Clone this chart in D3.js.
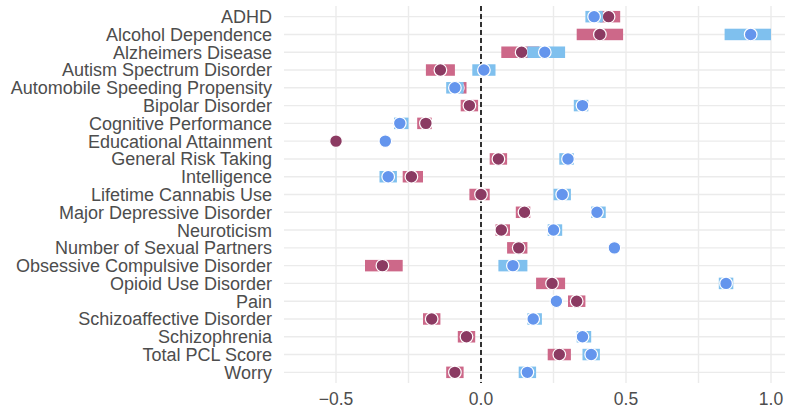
<!DOCTYPE html>
<html>

<head>
    <meta charset="utf-8">
    <style>
        body {
            margin: 0;
            background: white;
        }

        svg {
            display: block;
            font-family: 'Liberation Sans', Arial, sans-serif;
        }
    </style>
</head>

<body>
    <svg width="785" height="409"></svg>

    <script src="https://d3js.org/d3.v7.min.js"></script>

    <script>
        let categories = ["ADHD", "Alcohol Dependence", "Alzheimers Disease", "Autism Spectrum Disorder",
            "Automobile Speeding Propensity", "Bipolar Disorder", "Cognitive Performance",
            "Educational Attainment", "General Risk Taking", "Intelligence", "Lifetime Cannabis Use",
            "Major Depressive Disorder", "Neuroticism", "Number of Sexual Partners",
            "Obsessive Compulsive Disorder", "Opioid Use Disorder", "Pain", "Schizoaffective Disorder",
            "Schizophrenia", "Total PCL Score", "Worry"]

        // blue series
        let blueEst = [0.39, 0.93, 0.22, 0.01, -0.09, 0.35, -0.28, -0.33, 0.30, -0.32, 0.28, 0.40, 0.25, 0.46, 0.11, 0.845, 0.26, 0.18, 0.35, 0.38, 0.16]
        let blueLo = [0.36, 0.84, 0.16, -0.03, -0.12, 0.32, -0.30, -0.34, 0.27, -0.35, 0.25, 0.38, 0.23, 0.45, 0.06, 0.82, 0.25, 0.16, 0.33, 0.35, 0.13]
        let blueHi = [0.42, 1.00, 0.29, 0.05, -0.06, 0.37, -0.25, -0.32, 0.32, -0.29, 0.31, 0.43, 0.28, 0.47, 0.16, 0.87, 0.27, 0.21, 0.38, 0.41, 0.19]

        // maroon series
        let redEst = [0.44, 0.41, 0.14, -0.14, -0.08, -0.04, -0.19, -0.50, 0.06, -0.24, 0.00, 0.15, 0.07, 0.13, -0.34, 0.245, 0.33, -0.17, -0.05, 0.27, -0.09]
        let redLo = [0.41, 0.33, 0.07, -0.19, -0.10, -0.07, -0.22, -0.51, 0.03, -0.27, -0.04, 0.12, 0.05, 0.09, -0.40, 0.19, 0.30, -0.20, -0.08, 0.23, -0.12]
        let redHi = [0.48, 0.49, 0.20, -0.09, -0.05, -0.01, -0.17, -0.49, 0.09, -0.20, 0.03, 0.17, 0.10, 0.16, -0.27, 0.29, 0.36, -0.14, -0.02, 0.31, -0.06]

        let xTicks = [-0.5, 0, 0.5, 1.0]
        let xMinor = [-0.25, 0.25, 0.75]

        let svg = d3.select("svg")

        let panel = { left: 284, right: 785, top: 6, bottom: 383 }

        let x = d3.scaleLinear()
            .domain([-0.5, 1.0])
            .range([336, 771])

        let y = d3.scalePoint()
            .domain(categories)
            .range([panel.top, panel.bottom])
            .padding(0.6)

        //grid
        svg.append("g")
            .selectAll("line")
            .data(xTicks.concat(xMinor))
            .join("line")
            .attr("x1", d => x(d))
            .attr("x2", d => x(d))
            .attr("y1", panel.top)
            .attr("y2", panel.bottom)
            .style("stroke", "#ebebeb")
            .style("stroke-width", 1.4)

        svg.append("g")
            .selectAll("line")
            .data(categories)
            .join("line")
            .attr("x1", panel.left)
            .attr("x2", panel.right)
            .attr("y1", d => y(d))
            .attr("y2", d => y(d))
            .style("stroke", "#ebebeb")
            .style("stroke-width", 1.4)

        // zero line
        svg.append("line")
            .attr("x1", x(0))
            .attr("x2", x(0))
            .attr("y1", panel.top)
            .attr("y2", panel.bottom)
            .style("stroke", "black")
            .style("stroke-width", 1.6)
            .style("stroke-dasharray", "5,3")

        let series = [
            { est: redEst, lo: redLo, hi: redHi, bar: "#cd6889", dot: "#8b3a62" },
            { est: blueEst, lo: blueLo, hi: blueHi, bar: "#7fc0ee", dot: "#6495ed" }
        ]

        let barH = 11.5

        series.forEach(s => {
            let g = svg.append("g")

            g.selectAll("rect")
                .data(categories)
                .join("rect")
                .attr("x", (d, i) => x(s.lo[i]))
                .attr("width", (d, i) => x(s.hi[i]) - x(s.lo[i]))
                .attr("y", d => y(d) - barH / 2)
                .attr("height", barH)
                .style("fill", s.bar)

            g.selectAll("circle")
                .data(categories)
                .join("circle")
                .attr("cx", (d, i) => x(s.est[i]))
                .attr("cy", d => y(d))
                .attr("r", 6.3)
                .style("fill", s.dot)
                .style("stroke", "white")
                .style("stroke-width", 1.2)
        })

        // axis labels
        svg.append("g")
            .selectAll("text")
            .data(categories)
            .join("text")
            .attr("x", 272)
            .attr("y", d => y(d))
            .attr("dy", "0.36em")
            .attr("text-anchor", "end")
            .style("font-size", "18px")
            .style("fill", "#4d4d4d")
            .text(d => d)

        svg.append("g")
            .selectAll("text")
            .data(xTicks)
            .join("text")
            .attr("x", d => x(d))
            .attr("y", 405)
            .attr("text-anchor", "middle")
            .style("font-size", "17.5px")
            .style("fill", "#4d4d4d")
            .text(d => d3.format(".1f")(d).replace("-", "\u2212"))
    </script>
</body>

</html>
